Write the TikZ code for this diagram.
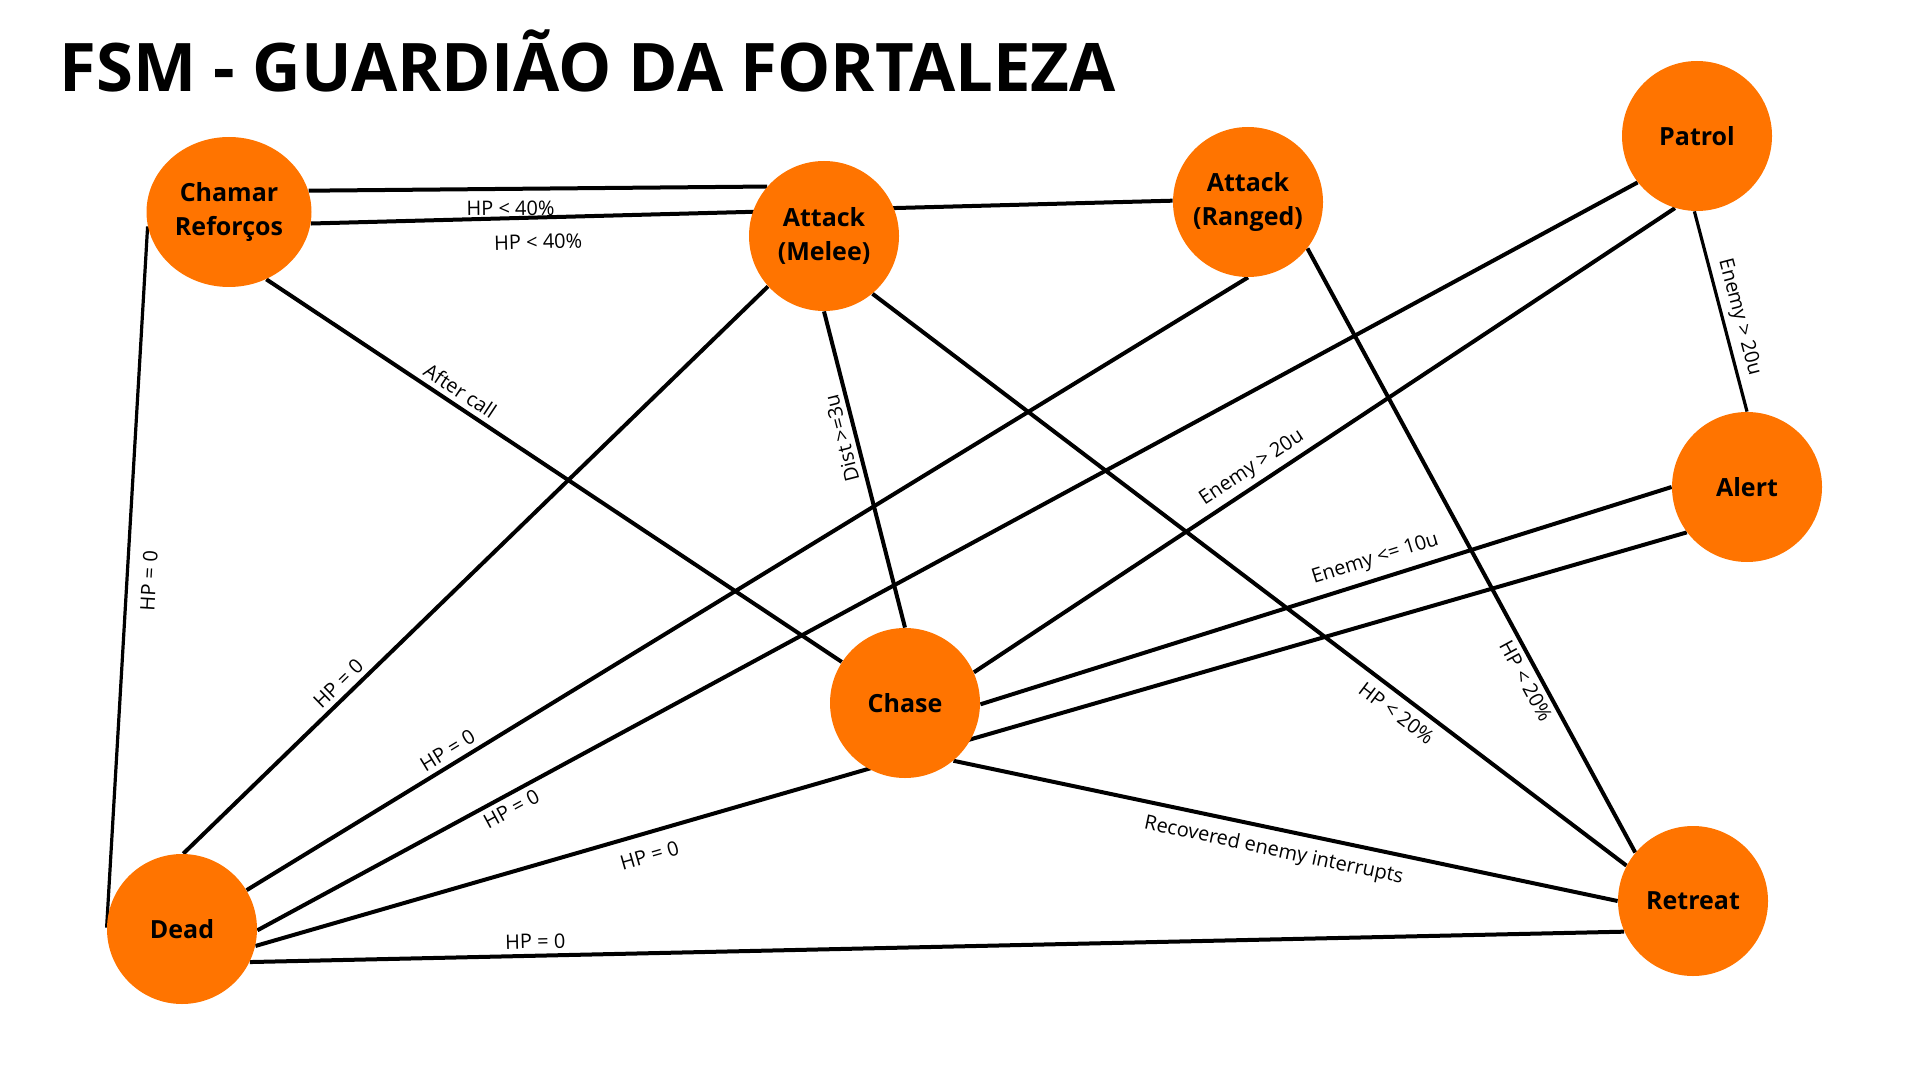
\documentclass[tikz,border=0pt]{standalone}
\usepackage{fontspec}
\setmainfont{Open Sans}
\usetikzlibrary{backgrounds,shapes.geometric}
\definecolor{stateorange}{HTML}{FF7400}
\begin{document}
\begin{tikzpicture}[x=0.5pt,y=-0.5pt,
  state/.style={circle,fill=stateorange,minimum size=75pt,inner sep=0pt,align=center,
    font=\bfseries\fontsize{12.5}{17}\selectfont},
  trans/.style={line width=2pt,black},
  thin trans/.style={line width=1.6pt,black},
  lbl/.style={font=\fontsize{10}{12}\selectfont,sloped,inner sep=2.5pt}]
\useasboundingbox (0,0) rectangle (1920,1080);

\node[anchor=base west,inner sep=0pt,font=\bfseries\fontsize{33.5}{40}\selectfont] (title) at (59,92) {FSM - GUARDIÃO DA FORTALEZA};

\node[state,ellipse,minimum width=82.5pt,minimum height=75pt] (C) at (229,212) {Chamar\\Reforços};
\node[state] (M) at (824,236) {Attack\\(Melee)};
\node[state] (R) at (1248,202) {Attack\\(Ranged)};
\node[state] (P) at (1697,136) {Patrol};
\node[state] (A) at (1747,487) {Alert};
\node[state] (Ch) at (905,703) {Chase};
\node[state] (D) at (182,929) {Dead};
\node[state] (Rt) at (1693,901) {Retreat};

\begin{scope}[on background layer]
\draw[trans] (C.15) -- node[lbl,pos=0.44,below=2.5pt]{HP < 40\%} (M.139);
\draw[trans] (C.-8) -- node[lbl,pos=0.263,below=5pt]{HP < 40\%} (R.179);
\draw[trans] (C.-61) -- node[lbl,pos=0.323,above]{After call} (Ch.147);
\draw[thin trans] (D.179) -- node[lbl,pos=0.496,below=4pt]{HP = 0} (C.190);
\draw[trans] (D.89) -- node[lbl,pos=0.282,above]{HP = 0} (M.222);
\draw[trans] (Ch.90) -- node[lbl,allow upside down,pos=0.61,above]{Dist >=3u} (M.270);
\draw[trans] (M.310) -- node[lbl,pos=0.709,below=1.5pt]{HP < 20\%} (Rt.152);
\draw[trans] (D.31) -- node[lbl,pos=0.208,above]{HP = 0} (R.270);
\draw[trans] (R.322) -- node[lbl,pos=0.705,below]{HP < 20\%} (Rt.140);
\draw[trans] (D.-1) -- node[lbl,pos=0.179,below]{HP = 0} (P.218);
\draw[trans] (Ch.24) -- node[lbl,pos=0.41,above]{Enemy > 20u} (P.253);
\draw[thin trans] (P.268) -- node[lbl,pos=0.55,above]{Enemy > 20u} (A.90);
\draw[trans] (Ch.-1) -- node[lbl,pos=0.58,above=1.5pt]{Enemy <= 10u} (A.180);
\draw[trans] (D.-13) -- node[lbl,pos=0.271,below=4pt]{HP = 0} (A.217);
\draw[trans] (Ch.-50) -- node[lbl,pos=0.489,below=2.5pt]{Recovered enemy interrupts} (Rt.180);
\draw[trans] (D.-26) -- node[lbl,pos=0.208,above]{HP = 0} (Rt.204);
\end{scope}
\end{tikzpicture}
\end{document}
